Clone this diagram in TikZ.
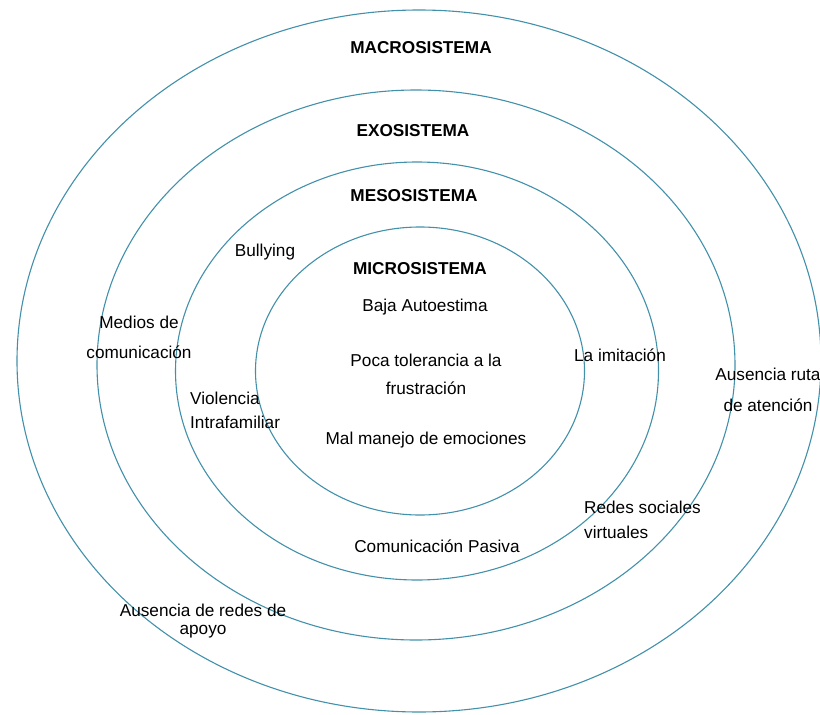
\documentclass[tikz,border=0pt]{standalone}
\usepackage{fontspec}
\setmainfont{Liberation Sans}
\usepackage{tikz}
\usetikzlibrary{shapes.geometric}
\definecolor{ringblue}{RGB}{66,144,170}

\begin{document}
\begin{tikzpicture}[x=1pt,y=-1pt,
    ring/.style={ellipse, draw=ringblue, line width=1.1pt, inner sep=0pt},
    title/.style={font=\fontsize{17.2}{20}\selectfont\bfseries},
    label/.style={font=\fontsize{17.2}{20}\selectfont, inner sep=1pt}]

    \useasboundingbox (0,0) rectangle (820,715);

    % the four systems
    \node[ring, minimum width=804pt, minimum height=702pt] (macro) at (419,361) {};
    \node[ring, minimum width=638pt, minimum height=550pt] (exo) at (416,365) {};
    \node[ring, minimum width=483pt, minimum height=418pt] (meso) at (417,371) {};
    \node[ring, minimum width=329pt, minimum height=288pt] (micro) at (420,371) {};

    \node[title] (tmacro) at (421,48) {MACROSISTEMA};
    \node[title] (texo) at (413,131) {EXOSISTEMA};
    \node[title] (tmeso) at (414,196) {MESOSISTEMA};
    \node[title] (tmicro) at (420,269) {MICROSISTEMA};

    %\node[label] at (0,0) {};
    \node[label] (baja) at (425,307) {Baja Autoestima};
    \node[label, align=center, font=\fontsize{17.2}{28}\selectfont] (poca) at (426,374) {Poca tolerancia a la\\frustración};
    \node[label] (mal) at (426,440) {Mal manejo de emociones};

    \node[label] (bully) at (265,252) {Bullying};
    \node[label, align=left, anchor=west, font=\fontsize{17.2}{24}\selectfont] (viol) at (189,410) {Violencia\\Intrafamiliar};
    \node[label] (imit) at (620,355) {La imitación};
    \node[label] (pasiva) at (437,546) {Comunicación Pasiva};

    \node[label, align=center, font=\fontsize{17.2}{30}\selectfont] (medios) at (139,337) {Medios de\\comunicación};
    \node[label, align=left, anchor=west, font=\fontsize{17.2}{25}\selectfont] (redes) at (583,520) {Redes sociales\\virtuales};

    \node[label, align=center, font=\fontsize{17.2}{31}\selectfont] (ruta) at (768,390) {Ausencia ruta\\de atención};
    \node[label, align=center, font=\fontsize{17.2}{18}\selectfont] (apoyo) at (203,621) {Ausencia de redes de\\apoyo};

\end{tikzpicture}
\end{document}
